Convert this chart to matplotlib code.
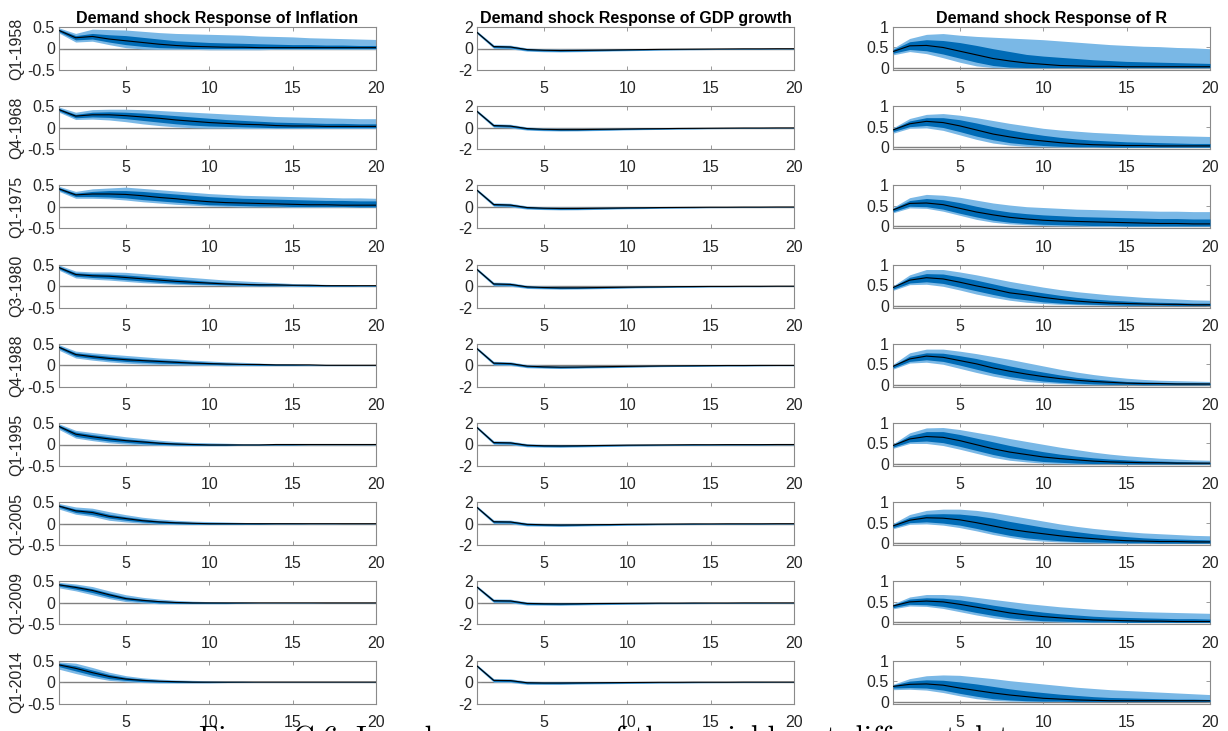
import numpy as np
import matplotlib
matplotlib.use("Agg")
import matplotlib.pyplot as plt

# horizons and sample dates
horizons = np.arange(1, 21)
periods = ["Q1-1958", "Q4-1968", "Q1-1975", "Q3-1980", "Q4-1988",
           "Q1-1995", "Q1-2005", "Q1-2009", "Q1-2014"]
titles = ["Demand shock Response of Inflation",
          "Demand shock Response of GDP growth",
          "Demand shock Response of R"]

# ---- inflation ----
infl_med = [
    [0.42,0.25,0.28,0.22,0.18,0.14,0.10,0.07,0.05,0.04,0.03,0.03,0.02,0.02,0.02,0.02,0.02,0.02,0.02,0.02],
    [0.42,0.27,0.30,0.30,0.28,0.25,0.22,0.18,0.15,0.12,0.10,0.08,0.07,0.05,0.04,0.04,0.03,0.03,0.03,0.03],
    [0.42,0.28,0.30,0.30,0.29,0.26,0.22,0.19,0.15,0.12,0.10,0.09,0.08,0.07,0.06,0.05,0.05,0.04,0.04,0.04],
    [0.43,0.27,0.24,0.23,0.20,0.17,0.14,0.11,0.09,0.07,0.05,0.04,0.03,0.03,0.02,0.02,0.01,0.01,0.01,0.01],
    [0.42,0.25,0.20,0.16,0.13,0.11,0.09,0.07,0.05,0.04,0.03,0.02,0.02,0.01,0.01,0.01,0.00,0.00,0.00,0.00],
    [0.42,0.24,0.18,0.13,0.09,0.06,0.03,0.01,0.00,-0.01,-0.01,-0.01,-0.01,0.00,0.00,0.00,0.00,0.00,0.00,0.00],
    [0.41,0.30,0.26,0.17,0.12,0.07,0.04,0.02,0.01,0.00,0.00,0.00,0.00,0.00,0.00,0.00,0.00,0.00,0.00,0.00],
    [0.42,0.36,0.29,0.19,0.10,0.06,0.03,0.01,0.00,0.00,0.00,0.00,0.00,0.00,0.00,0.00,0.00,0.00,0.00,0.00],
    [0.40,0.32,0.22,0.13,0.07,0.04,0.02,0.01,0.00,0.00,0.00,0.00,0.00,0.00,0.00,0.00,0.00,0.00,0.00,0.00],
]
infl_in_hi = [
    [0.45,0.30,0.35,0.32,0.30,0.26,0.22,0.18,0.16,0.14,0.13,0.12,0.11,0.10,0.09,0.09,0.08,0.08,0.07,0.07],
    [0.45,0.31,0.36,0.37,0.36,0.34,0.31,0.28,0.25,0.22,0.19,0.17,0.15,0.13,0.12,0.11,0.10,0.10,0.09,0.09],
    [0.45,0.32,0.36,0.38,0.38,0.36,0.33,0.30,0.27,0.24,0.22,0.20,0.19,0.18,0.17,0.16,0.15,0.15,0.14,0.14],
    [0.46,0.31,0.29,0.28,0.26,0.23,0.20,0.17,0.14,0.11,0.09,0.07,0.06,0.05,0.04,0.03,0.02,0.02,0.01,0.01],
    [0.45,0.29,0.25,0.21,0.18,0.15,0.13,0.11,0.09,0.07,0.05,0.04,0.03,0.02,0.02,0.01,0.01,0.01,0.00,0.00],
    [0.45,0.29,0.23,0.18,0.13,0.10,0.06,0.04,0.02,0.01,0.01,0.00,0.00,0.00,0.00,0.00,0.00,0.00,0.00,0.00],
    [0.44,0.34,0.31,0.22,0.16,0.11,0.07,0.05,0.03,0.02,0.02,0.01,0.01,0.01,0.01,0.00,0.00,0.00,0.00,0.00],
    [0.45,0.40,0.33,0.23,0.14,0.09,0.05,0.03,0.02,0.01,0.01,0.00,0.00,0.00,0.00,0.00,0.00,0.00,0.00,0.00],
    [0.44,0.38,0.28,0.18,0.11,0.07,0.04,0.03,0.02,0.01,0.01,0.01,0.00,0.00,0.00,0.00,0.00,0.00,0.00,0.00],
]
infl_in_lo = [
    [0.39,0.20,0.22,0.15,0.09,0.05,0.02,0.01,0.00,0.00,0.00,0.00,0.00,0.00,0.00,0.00,0.00,0.00,0.00,0.00],
    [0.39,0.23,0.25,0.24,0.21,0.17,0.13,0.09,0.06,0.04,0.03,0.02,0.01,0.00,0.00,0.00,0.00,0.00,0.00,0.00],
    [0.39,0.24,0.24,0.23,0.21,0.17,0.14,0.11,0.08,0.05,0.04,0.03,0.02,0.02,0.01,0.01,0.01,0.01,0.00,0.00],
    [0.40,0.23,0.20,0.18,0.15,0.12,0.09,0.07,0.05,0.04,0.03,0.02,0.01,0.01,0.01,0.00,0.00,0.00,0.00,0.00],
    [0.39,0.21,0.16,0.12,0.09,0.07,0.05,0.04,0.03,0.02,0.01,0.01,0.00,0.00,0.00,0.00,0.00,0.00,0.00,0.00],
    [0.39,0.19,0.13,0.08,0.05,0.02,0.00,-0.01,-0.02,-0.02,-0.02,-0.01,-0.01,-0.01,-0.01,0.00,0.00,0.00,0.00,0.00],
    [0.38,0.26,0.21,0.13,0.08,0.04,0.01,0.00,-0.01,-0.01,-0.01,-0.01,-0.01,0.00,0.00,0.00,0.00,0.00,0.00,0.00],
    [0.39,0.32,0.24,0.14,0.07,0.03,0.00,-0.01,-0.01,-0.01,-0.01,-0.01,0.00,0.00,0.00,0.00,0.00,0.00,0.00,0.00],
    [0.36,0.26,0.16,0.08,0.04,0.01,0.00,-0.01,-0.01,-0.01,-0.01,0.00,0.00,0.00,0.00,0.00,0.00,0.00,0.00,0.00],
]
infl_out_hi = [
    [0.48,0.35,0.45,0.44,0.43,0.40,0.37,0.35,0.34,0.33,0.32,0.31,0.29,0.28,0.27,0.25,0.24,0.23,0.22,0.21],
    [0.48,0.36,0.42,0.43,0.43,0.42,0.40,0.38,0.36,0.34,0.32,0.30,0.28,0.26,0.25,0.24,0.23,0.22,0.21,0.21],
    [0.48,0.36,0.42,0.44,0.46,0.43,0.40,0.37,0.34,0.31,0.29,0.27,0.26,0.25,0.24,0.23,0.22,0.21,0.21,0.20],
    [0.49,0.35,0.33,0.33,0.32,0.29,0.26,0.23,0.20,0.17,0.14,0.12,0.10,0.08,0.06,0.05,0.04,0.03,0.02,0.02],
    [0.48,0.33,0.29,0.26,0.23,0.20,0.17,0.15,0.12,0.10,0.08,0.07,0.05,0.04,0.03,0.02,0.02,0.01,0.01,0.01],
    [0.48,0.33,0.28,0.23,0.18,0.14,0.10,0.07,0.05,0.04,0.03,0.02,0.02,0.01,0.01,0.01,0.01,0.00,0.00,0.00],
    [0.47,0.39,0.36,0.28,0.21,0.15,0.11,0.08,0.06,0.05,0.04,0.03,0.02,0.02,0.01,0.01,0.01,0.00,0.00,0.00],
    [0.48,0.44,0.38,0.28,0.19,0.13,0.09,0.06,0.04,0.03,0.02,0.02,0.01,0.01,0.01,0.01,0.00,0.00,0.00,0.00],
    [0.47,0.44,0.34,0.23,0.15,0.10,0.07,0.05,0.04,0.03,0.02,0.02,0.01,0.01,0.01,0.01,0.01,0.01,0.01,0.01],
]
infl_out_lo = [
    [0.36,0.15,0.17,0.09,0.02,-0.01,-0.02,-0.02,-0.02,-0.03,-0.03,-0.03,-0.03,-0.02,-0.02,-0.02,-0.02,-0.02,-0.02,-0.02],
    [0.36,0.19,0.20,0.18,0.14,0.09,0.05,0.02,0.00,-0.01,-0.01,-0.02,-0.02,-0.02,-0.02,-0.02,-0.02,-0.02,-0.02,-0.02],
    [0.36,0.20,0.20,0.19,0.16,0.12,0.09,0.06,0.04,0.02,0.01,0.00,0.00,0.00,-0.01,-0.01,-0.01,-0.01,-0.01,-0.01],
    [0.37,0.19,0.16,0.14,0.11,0.08,0.06,0.04,0.03,0.02,0.01,0.00,0.00,0.00,-0.01,-0.01,-0.01,-0.01,-0.01,-0.01],
    [0.35,0.17,0.12,0.08,0.05,0.03,0.02,0.01,0.00,0.00,-0.01,-0.01,-0.01,-0.01,-0.01,-0.01,-0.01,-0.01,-0.01,-0.01],
    [0.35,0.15,0.09,0.04,0.01,-0.01,-0.02,-0.03,-0.03,-0.03,-0.03,-0.02,-0.02,-0.01,-0.01,-0.01,-0.01,-0.01,-0.01,-0.01],
    [0.34,0.22,0.17,0.08,0.04,0.01,-0.01,-0.02,-0.02,-0.02,-0.02,-0.02,-0.01,-0.01,-0.01,-0.01,-0.01,-0.01,-0.01,-0.01],
    [0.35,0.28,0.19,0.10,0.03,0.00,-0.02,-0.02,-0.02,-0.02,-0.02,-0.01,-0.01,-0.01,-0.01,-0.01,-0.01,-0.01,-0.01,-0.01],
    [0.30,0.20,0.11,0.04,0.01,-0.01,-0.02,-0.02,-0.02,-0.02,-0.01,-0.01,-0.01,-0.01,-0.01,-0.01,-0.01,-0.01,-0.01,-0.01],
]

# ---- GDP growth ----
gdp_med = [
    [1.50,0.18,0.14,-0.10,-0.16,-0.19,-0.18,-0.16,-0.14,-0.12,-0.10,-0.08,-0.07,-0.06,-0.05,-0.04,-0.03,-0.03,-0.02,-0.02],
    [1.52,0.20,0.15,-0.08,-0.15,-0.18,-0.18,-0.16,-0.14,-0.12,-0.10,-0.09,-0.07,-0.06,-0.05,-0.04,-0.03,-0.03,-0.02,-0.02],
    [1.55,0.22,0.17,-0.06,-0.12,-0.15,-0.15,-0.13,-0.11,-0.09,-0.08,-0.06,-0.05,-0.04,-0.03,-0.03,-0.02,-0.02,-0.01,-0.01],
    [1.55,0.20,0.16,-0.07,-0.13,-0.16,-0.16,-0.14,-0.12,-0.10,-0.08,-0.07,-0.05,-0.04,-0.03,-0.03,-0.02,-0.02,-0.01,-0.01],
    [1.55,0.20,0.16,-0.08,-0.14,-0.17,-0.16,-0.14,-0.12,-0.10,-0.08,-0.06,-0.05,-0.04,-0.03,-0.02,-0.02,-0.01,-0.01,-0.01],
    [1.58,0.18,0.15,-0.07,-0.12,-0.13,-0.12,-0.10,-0.08,-0.06,-0.05,-0.04,-0.03,-0.02,-0.02,-0.01,-0.01,-0.01,0.00,0.00],
    [1.52,0.18,0.16,-0.06,-0.10,-0.12,-0.11,-0.09,-0.08,-0.06,-0.05,-0.04,-0.03,-0.02,-0.02,-0.01,-0.01,-0.01,0.00,0.00],
    [1.48,0.20,0.18,-0.05,-0.08,-0.09,-0.08,-0.06,-0.05,-0.04,-0.03,-0.02,-0.02,-0.01,-0.01,-0.01,0.00,0.00,0.00,0.00],
    [1.50,0.16,0.14,-0.06,-0.08,-0.08,-0.07,-0.06,-0.05,-0.04,-0.03,-0.02,-0.02,-0.01,-0.01,-0.01,0.00,0.00,0.00,0.00],
]
gdp_in_hi = [
    [1.57,0.27,0.23,-0.02,-0.09,-0.12,-0.12,-0.11,-0.09,-0.08,-0.06,-0.05,-0.04,-0.03,-0.03,-0.02,-0.01,-0.01,-0.01,-0.01],
    [1.59,0.29,0.24,0.00,-0.08,-0.11,-0.12,-0.11,-0.09,-0.08,-0.06,-0.06,-0.04,-0.03,-0.03,-0.02,-0.01,-0.01,-0.01,-0.01],
    [1.62,0.31,0.26,0.02,-0.05,-0.08,-0.09,-0.08,-0.06,-0.05,-0.04,-0.03,-0.02,-0.01,-0.01,-0.01,0.00,0.00,0.00,0.00],
    [1.62,0.29,0.25,0.01,-0.06,-0.09,-0.10,-0.09,-0.07,-0.06,-0.04,-0.04,-0.02,-0.01,-0.01,-0.01,0.00,0.00,0.00,0.00],
    [1.62,0.29,0.25,0.00,-0.07,-0.10,-0.10,-0.09,-0.07,-0.06,-0.04,-0.03,-0.02,-0.01,-0.01,0.00,0.00,0.01,0.00,0.00],
    [1.65,0.27,0.24,0.01,-0.05,-0.06,-0.06,-0.05,-0.03,-0.02,-0.01,-0.01,0.00,0.01,0.00,0.01,0.01,0.01,0.01,0.01],
    [1.59,0.27,0.25,0.02,-0.03,-0.05,-0.05,-0.04,-0.03,-0.02,-0.01,-0.01,0.00,0.01,0.00,0.01,0.01,0.01,0.01,0.01],
    [1.55,0.29,0.27,0.03,-0.01,-0.02,-0.02,-0.01,0.00,0.00,0.01,0.01,0.01,0.02,0.01,0.01,0.02,0.02,0.01,0.01],
    [1.57,0.25,0.23,0.02,-0.01,-0.01,-0.01,-0.01,0.00,0.00,0.01,0.01,0.01,0.02,0.01,0.01,0.02,0.02,0.01,0.01],
]
gdp_in_lo = [
    [1.43,0.09,0.05,-0.18,-0.23,-0.26,-0.24,-0.21,-0.19,-0.16,-0.14,-0.11,-0.10,-0.09,-0.07,-0.06,-0.05,-0.05,-0.03,-0.03],
    [1.45,0.11,0.06,-0.16,-0.22,-0.25,-0.24,-0.21,-0.19,-0.16,-0.14,-0.12,-0.10,-0.09,-0.07,-0.06,-0.05,-0.05,-0.03,-0.03],
    [1.48,0.13,0.08,-0.14,-0.19,-0.22,-0.21,-0.18,-0.16,-0.13,-0.12,-0.09,-0.08,-0.07,-0.05,-0.05,-0.04,-0.04,-0.02,-0.02],
    [1.48,0.11,0.07,-0.15,-0.20,-0.23,-0.22,-0.19,-0.17,-0.14,-0.12,-0.10,-0.08,-0.07,-0.05,-0.05,-0.04,-0.04,-0.02,-0.02],
    [1.48,0.11,0.07,-0.16,-0.21,-0.24,-0.22,-0.19,-0.17,-0.14,-0.12,-0.09,-0.08,-0.07,-0.05,-0.04,-0.04,-0.03,-0.02,-0.02],
    [1.51,0.09,0.06,-0.15,-0.19,-0.20,-0.18,-0.15,-0.13,-0.10,-0.09,-0.07,-0.06,-0.05,-0.04,-0.03,-0.03,-0.03,-0.01,-0.01],
    [1.45,0.09,0.07,-0.14,-0.17,-0.19,-0.17,-0.14,-0.13,-0.10,-0.09,-0.07,-0.06,-0.05,-0.04,-0.03,-0.03,-0.03,-0.01,-0.01],
    [1.41,0.11,0.09,-0.13,-0.15,-0.16,-0.14,-0.11,-0.10,-0.08,-0.07,-0.05,-0.05,-0.04,-0.03,-0.03,-0.02,-0.02,-0.01,-0.01],
    [1.43,0.07,0.05,-0.14,-0.15,-0.15,-0.13,-0.11,-0.10,-0.08,-0.07,-0.05,-0.05,-0.04,-0.03,-0.03,-0.02,-0.02,-0.01,-0.01],
]
gdp_out_hi = [
    [1.64,0.35,0.31,0.05,-0.03,-0.06,-0.06,-0.05,-0.04,-0.03,-0.02,-0.01,-0.01,0.00,0.00,0.00,0.01,0.01,0.01,0.01],
    [1.66,0.37,0.32,0.07,-0.02,-0.05,-0.06,-0.05,-0.04,-0.03,-0.02,-0.02,-0.01,0.00,0.00,0.00,0.01,0.01,0.01,0.01],
    [1.69,0.39,0.34,0.09,0.01,-0.02,-0.03,-0.02,-0.01,0.00,0.00,0.01,0.01,0.02,0.02,0.01,0.02,0.02,0.02,0.02],
    [1.69,0.37,0.33,0.08,0.00,-0.03,-0.04,-0.03,-0.02,-0.01,0.00,0.00,0.01,0.02,0.02,0.01,0.02,0.02,0.02,0.02],
    [1.69,0.37,0.33,0.07,-0.01,-0.04,-0.04,-0.03,-0.02,-0.01,0.00,0.01,0.01,0.02,0.02,0.02,0.02,0.03,0.02,0.02],
    [1.72,0.35,0.32,0.08,0.01,0.00,0.00,0.01,0.02,0.03,0.03,0.03,0.03,0.04,0.03,0.03,0.03,0.03,0.03,0.03],
    [1.66,0.35,0.33,0.09,0.03,0.01,0.01,0.02,0.02,0.03,0.03,0.03,0.03,0.04,0.03,0.03,0.03,0.03,0.03,0.03],
    [1.62,0.37,0.35,0.10,0.05,0.04,0.04,0.05,0.05,0.05,0.05,0.05,0.04,0.05,0.04,0.03,0.04,0.04,0.03,0.03],
    [1.64,0.33,0.31,0.09,0.05,0.05,0.05,0.05,0.05,0.05,0.05,0.05,0.04,0.05,0.04,0.03,0.04,0.04,0.03,0.03],
]
gdp_out_lo = [
    [1.36,0.01,-0.03,-0.25,-0.30,-0.32,-0.30,-0.27,-0.24,-0.21,-0.18,-0.15,-0.13,-0.12,-0.10,-0.08,-0.07,-0.07,-0.05,-0.05],
    [1.38,0.03,-0.02,-0.23,-0.28,-0.31,-0.30,-0.27,-0.24,-0.21,-0.18,-0.16,-0.13,-0.12,-0.10,-0.08,-0.07,-0.07,-0.05,-0.05],
    [1.41,0.05,0.00,-0.21,-0.25,-0.28,-0.27,-0.24,-0.21,-0.18,-0.16,-0.13,-0.11,-0.10,-0.08,-0.07,-0.06,-0.06,-0.04,-0.04],
    [1.41,0.03,-0.01,-0.22,-0.26,-0.29,-0.28,-0.25,-0.22,-0.19,-0.16,-0.14,-0.11,-0.10,-0.08,-0.07,-0.06,-0.06,-0.04,-0.04],
    [1.41,0.03,-0.01,-0.23,-0.27,-0.30,-0.28,-0.25,-0.22,-0.19,-0.16,-0.13,-0.11,-0.10,-0.08,-0.06,-0.06,-0.05,-0.04,-0.04],
    [1.44,0.01,-0.02,-0.22,-0.25,-0.26,-0.24,-0.21,-0.18,-0.15,-0.13,-0.11,-0.09,-0.08,-0.07,-0.05,-0.05,-0.05,-0.03,-0.03],
    [1.38,0.01,-0.01,-0.21,-0.23,-0.25,-0.23,-0.20,-0.18,-0.15,-0.13,-0.11,-0.09,-0.08,-0.07,-0.05,-0.05,-0.05,-0.03,-0.03],
    [1.34,0.03,0.01,-0.20,-0.21,-0.22,-0.20,-0.17,-0.15,-0.13,-0.11,-0.09,-0.08,-0.07,-0.06,-0.05,-0.04,-0.04,-0.03,-0.03],
    [1.36,-0.01,-0.03,-0.21,-0.21,-0.21,-0.19,-0.17,-0.15,-0.13,-0.11,-0.09,-0.08,-0.07,-0.06,-0.05,-0.04,-0.04,-0.03,-0.03],
]

# ---- interest rate ----
r_med = [
    [0.40,0.54,0.55,0.50,0.41,0.32,0.23,0.17,0.12,0.09,0.06,0.05,0.04,0.04,0.03,0.03,0.03,0.03,0.03,0.03],
    [0.42,0.57,0.63,0.60,0.52,0.42,0.32,0.25,0.19,0.15,0.11,0.08,0.06,0.05,0.04,0.04,0.03,0.03,0.03,0.03],
    [0.40,0.56,0.57,0.53,0.44,0.35,0.28,0.22,0.18,0.15,0.13,0.12,0.11,0.10,0.09,0.08,0.07,0.07,0.06,0.06],
    [0.44,0.62,0.68,0.65,0.57,0.48,0.40,0.31,0.26,0.20,0.15,0.11,0.08,0.06,0.05,0.04,0.03,0.03,0.02,0.02],
    [0.45,0.63,0.70,0.67,0.59,0.51,0.41,0.33,0.26,0.20,0.15,0.11,0.08,0.06,0.04,0.03,0.03,0.02,0.02,0.02],
    [0.45,0.61,0.67,0.65,0.57,0.47,0.37,0.29,0.23,0.17,0.13,0.10,0.07,0.05,0.04,0.03,0.03,0.02,0.02,0.02],
    [0.42,0.56,0.62,0.61,0.57,0.50,0.42,0.34,0.28,0.23,0.18,0.14,0.11,0.08,0.06,0.05,0.04,0.04,0.03,0.03],
    [0.40,0.50,0.52,0.50,0.44,0.37,0.30,0.23,0.18,0.14,0.11,0.08,0.06,0.05,0.04,0.03,0.03,0.02,0.02,0.02],
    [0.37,0.42,0.43,0.40,0.33,0.27,0.21,0.16,0.12,0.08,0.06,0.04,0.03,0.02,0.02,0.02,0.02,0.02,0.02,0.02],
]
r_in_hi = [
    [0.45,0.64,0.69,0.67,0.62,0.55,0.47,0.40,0.33,0.29,0.26,0.23,0.20,0.18,0.16,0.15,0.14,0.13,0.12,0.11],
    [0.45,0.64,0.72,0.72,0.67,0.59,0.50,0.42,0.35,0.29,0.24,0.20,0.17,0.15,0.13,0.12,0.11,0.10,0.09,0.09],
    [0.44,0.63,0.68,0.65,0.58,0.49,0.41,0.35,0.31,0.28,0.26,0.24,0.23,0.22,0.21,0.20,0.19,0.19,0.18,0.18],
    [0.46,0.69,0.78,0.77,0.70,0.62,0.53,0.44,0.37,0.31,0.25,0.20,0.16,0.13,0.11,0.09,0.08,0.07,0.06,0.06],
    [0.47,0.70,0.78,0.77,0.71,0.64,0.55,0.46,0.38,0.31,0.24,0.18,0.14,0.11,0.08,0.07,0.06,0.05,0.05,0.04],
    [0.47,0.69,0.79,0.79,0.72,0.63,0.54,0.45,0.37,0.30,0.24,0.19,0.15,0.12,0.10,0.08,0.07,0.06,0.05,0.04],
    [0.46,0.63,0.71,0.72,0.71,0.67,0.61,0.53,0.46,0.39,0.33,0.28,0.23,0.19,0.16,0.13,0.11,0.10,0.09,0.08],
    [0.43,0.57,0.60,0.59,0.55,0.49,0.42,0.36,0.30,0.25,0.21,0.18,0.15,0.13,0.12,0.11,0.10,0.09,0.09,0.08],
    [0.40,0.50,0.53,0.52,0.48,0.43,0.37,0.31,0.26,0.22,0.18,0.15,0.12,0.10,0.09,0.08,0.07,0.06,0.06,0.05],
]
r_in_lo = [
    [0.36,0.45,0.42,0.34,0.24,0.14,0.06,0.02,0.01,0.01,0.01,0.01,0.01,0.01,0.01,0.01,0.01,0.01,0.01,0.01],
    [0.38,0.50,0.53,0.48,0.38,0.27,0.18,0.11,0.07,0.04,0.02,0.01,0.01,0.00,0.00,0.00,0.00,0.00,0.00,0.00],
    [0.36,0.49,0.48,0.42,0.32,0.23,0.15,0.10,0.07,0.05,0.04,0.03,0.02,0.02,0.01,0.01,0.01,0.01,0.01,0.01],
    [0.40,0.55,0.58,0.54,0.45,0.36,0.27,0.19,0.14,0.09,0.06,0.04,0.03,0.02,0.01,0.01,0.01,0.00,0.00,0.00],
    [0.41,0.57,0.61,0.57,0.48,0.38,0.28,0.20,0.14,0.09,0.06,0.04,0.02,0.01,0.01,0.00,0.00,0.00,0.00,0.00],
    [0.41,0.54,0.56,0.52,0.43,0.33,0.23,0.15,0.10,0.06,0.04,0.02,0.01,0.01,0.00,0.00,0.00,0.00,0.00,0.00],
    [0.38,0.50,0.52,0.49,0.44,0.36,0.27,0.19,0.13,0.09,0.06,0.04,0.03,0.02,0.01,0.01,0.00,0.00,0.00,0.00],
    [0.36,0.44,0.43,0.39,0.32,0.24,0.17,0.11,0.07,0.04,0.03,0.02,0.01,0.01,0.00,0.00,0.00,0.00,0.00,0.00],
    [0.33,0.34,0.33,0.28,0.20,0.13,0.07,0.04,0.02,0.01,0.01,0.00,0.00,0.00,0.00,0.00,0.00,0.00,0.00,0.00],
]
r_out_hi = [
    [0.48,0.72,0.82,0.84,0.80,0.77,0.75,0.73,0.71,0.69,0.66,0.63,0.60,0.57,0.55,0.53,0.52,0.50,0.49,0.47],
    [0.47,0.70,0.80,0.82,0.78,0.72,0.65,0.58,0.52,0.46,0.42,0.39,0.36,0.34,0.32,0.30,0.29,0.28,0.27,0.26],
    [0.46,0.70,0.78,0.76,0.71,0.64,0.57,0.52,0.48,0.46,0.44,0.42,0.41,0.40,0.39,0.38,0.37,0.37,0.36,0.36],
    [0.48,0.75,0.88,0.88,0.82,0.75,0.67,0.59,0.52,0.45,0.39,0.34,0.30,0.26,0.23,0.20,0.18,0.16,0.14,0.13],
    [0.50,0.78,0.87,0.87,0.82,0.76,0.69,0.62,0.54,0.46,0.38,0.31,0.25,0.20,0.16,0.13,0.11,0.10,0.09,0.08],
    [0.49,0.76,0.88,0.89,0.84,0.77,0.70,0.62,0.55,0.48,0.41,0.35,0.29,0.24,0.20,0.17,0.14,0.12,0.10,0.09],
    [0.48,0.70,0.80,0.83,0.83,0.80,0.75,0.68,0.61,0.54,0.47,0.41,0.36,0.32,0.28,0.25,0.23,0.21,0.19,0.18],
    [0.45,0.62,0.68,0.68,0.66,0.61,0.56,0.51,0.46,0.42,0.38,0.35,0.32,0.30,0.28,0.26,0.25,0.24,0.23,0.22],
    [0.42,0.56,0.63,0.65,0.64,0.60,0.56,0.51,0.47,0.43,0.39,0.35,0.32,0.29,0.27,0.25,0.23,0.21,0.19,0.17],
]
r_out_lo = [
    [0.32,0.40,0.35,0.25,0.14,0.05,0.01,0.00,0.00,0.00,0.00,0.00,0.00,0.00,0.00,0.00,0.00,0.00,0.00,0.00],
    [0.34,0.46,0.47,0.41,0.30,0.19,0.10,0.05,0.02,0.01,0.00,0.00,0.00,0.00,0.00,0.00,0.00,0.00,0.00,0.00],
    [0.33,0.45,0.44,0.37,0.27,0.17,0.10,0.06,0.04,0.02,0.01,0.01,0.00,0.00,0.00,0.00,0.00,0.00,0.00,0.00],
    [0.37,0.51,0.52,0.47,0.38,0.28,0.20,0.13,0.08,0.05,0.03,0.02,0.01,0.00,0.00,0.00,0.00,0.00,0.00,0.00],
    [0.38,0.53,0.55,0.50,0.40,0.30,0.21,0.14,0.08,0.05,0.03,0.01,0.00,0.00,0.00,0.00,0.00,0.00,0.00,0.00],
    [0.38,0.50,0.50,0.45,0.36,0.26,0.16,0.09,0.05,0.02,0.01,0.00,0.00,0.00,0.00,0.00,0.00,0.00,0.00,0.00],
    [0.35,0.46,0.47,0.44,0.38,0.30,0.21,0.14,0.08,0.05,0.03,0.02,0.01,0.00,0.00,0.00,0.00,0.00,0.00,0.00],
    [0.33,0.40,0.39,0.34,0.26,0.18,0.11,0.06,0.03,0.02,0.01,0.00,0.00,0.00,0.00,0.00,0.00,0.00,0.00,0.00],
    [0.29,0.30,0.28,0.22,0.14,0.07,0.03,0.01,0.00,0.00,0.00,0.00,0.00,0.00,0.00,0.00,0.00,0.00,0.00,0.00],
]

columns = [
    (infl_med, infl_in_lo, infl_in_hi, infl_out_lo, infl_out_hi),
    (gdp_med, gdp_in_lo, gdp_in_hi, gdp_out_lo, gdp_out_hi),
    (r_med, r_in_lo, r_in_hi, r_out_lo, r_out_hi),
]
ylims = [(-0.5, 0.5), (-2, 2), (-0.05, 1)]
yticks = [[-0.5, 0, 0.5], [-2, 0, 2], [0, 0.5, 1]]
yticklabels = [["-0.5", "0", "0.5"], ["-2", "0", "2"], ["0", "0.5", "1"]]

light = "#7ab8e6"
dark = "#006bb6"
edge = "#8a8a8a"

plt.rcParams["font.family"] = ["Liberation Sans", "DejaVu Sans"]

W, H = 1228, 731
fig = plt.figure(figsize=(W / 100, H / 100), dpi=100)

lefts = [59, 477, 893]
ax_w, ax_h = 317, 43
row_step = 79.2
top0 = 27

for j in range(3):
    med, in_lo, in_hi, out_lo, out_hi = columns[j]
    for i in range(9):
        top = top0 + row_step * i
        ax = fig.add_axes([lefts[j] / W, 1 - (top + ax_h) / H, ax_w / W, ax_h / H])
        ax.axhline(0, color="#808080", lw=1.0, zorder=1)
        ax.fill_between(horizons, out_lo[i], out_hi[i], color=light, lw=0, zorder=2)
        ax.fill_between(horizons, in_lo[i], in_hi[i], color=dark, lw=0, zorder=3)
        ax.plot(horizons, med[i], color="black", lw=0.8, zorder=4)
        ax.set_xlim(1, 20)
        ax.set_ylim(*ylims[j])
        ax.set_xticks([5, 10, 15, 20])
        ax.set_yticks(yticks[j])
        ax.set_yticklabels(yticklabels[j])
        ax.tick_params(direction="in", length=3, width=0.6, color=edge,
                       top=True, right=True, labelsize=11.5, labelcolor="#262626")
        ax.tick_params(axis="x", pad=8)
        ax.tick_params(axis="y", pad=3)
        for s in ax.spines.values():
            s.set_color(edge)
            s.set_linewidth(0.8)
        if i == 0:
            ax.set_title(titles[j], fontsize=11.5, fontweight="bold", pad=3)
        if j == 0:
            fig.text(17 / W, 1 - (top + ax_h / 2) / H, periods[i], rotation=90,
                     ha="center", va="center", fontsize=11.5, color="#262626")

# caption running off the bottom edge
fig.text(199 / W, -0.022, "Figure C.6: Impulse responses of the variables at different dates",
         fontsize=21.5, family="cmr10", ha="left", va="baseline")

fig.savefig("out.png", dpi=100)
